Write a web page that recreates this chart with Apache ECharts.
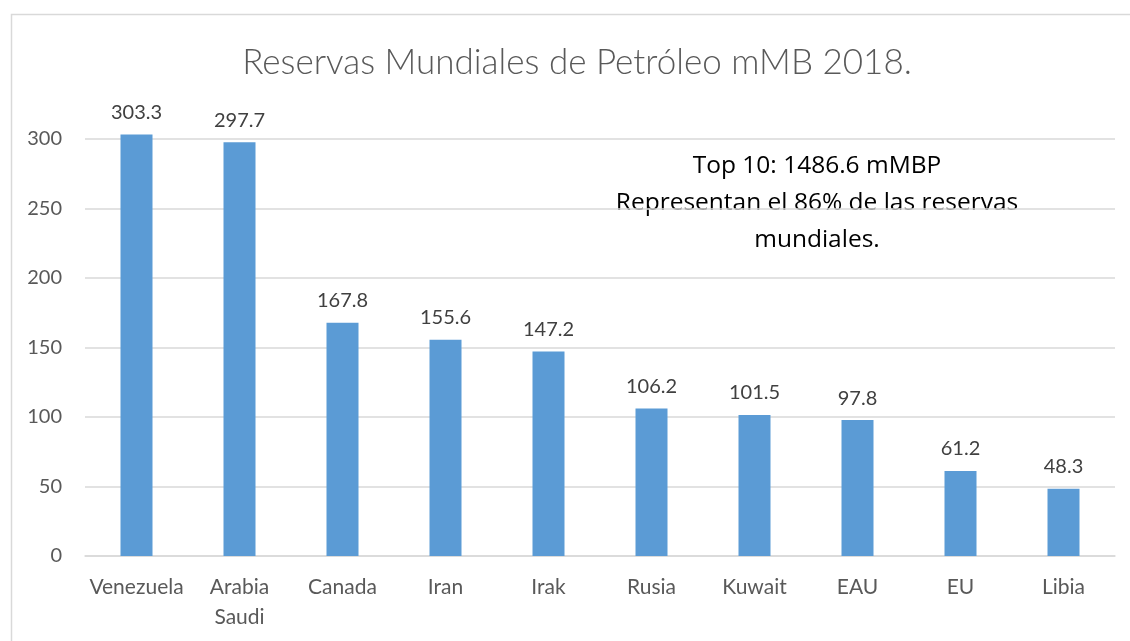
<!DOCTYPE html>
<html><head><meta charset="utf-8">
<script src="https://cdn.jsdelivr.net/npm/echarts@6/dist/echarts.min.js"></script>
<style>html,body{margin:0;padding:0;background:#fff}#c{width:1130px;height:641px}</style>
</head><body><div id="c"></div>
<script>
const categories = ['Venezuela', 'Arabia\nSaudi', 'Canada', 'Iran', 'Irak', 'Rusia', 'Kuwait', 'EAU', 'EU', 'Libia'];
const values = [303.3, 297.7, 167.8, 155.6, 147.2, 106.2, 101.5, 97.8, 61.2, 48.3];
const titleText = 'Reservas Mundiales de Petróleo mMB 2018.';
const noteLines = ['Top 10: 1486.6 mMBP', 'Representan el 86% de las reservas', 'mundiales.'];
const yTicks = [0, 50, 100, 150, 200, 250, 300];

const chart = echarts.init(document.getElementById('c'));
const font = 'Lato, "Open Sans", sans-serif';
chart.setOption({
  animation: false,
  title: {
    text: titleText, left: 572, textAlign: 'center', top: 40,
    textStyle: { fontFamily: font, fontWeight: 300, fontSize: 35, color: '#595959' }
  },
  graphic: [
    { type: 'rect', left: 9, top: 12, shape: { width: 1200, height: 700 }, style: { fill: 'none', stroke: '#d9d9d9', lineWidth: 1.5 }, silent: true },
    { type: 'text', x: 817, y: 148, style: { text: noteLines.join('\n'), fontFamily: '"Open Sans", sans-serif', fontSize: 24.5, lineHeight: 37, fill: '#000', align: 'center' } }
  ],
  grid: { left: 85, right: 15, top: 139, bottom: 85, containLabel: false },
  xAxis: {
    type: 'category', data: categories,
    axisLine: { lineStyle: { color: '#d9d9d9', width: 1.5 } },
    axisTick: { show: false },
    axisLabel: { interval: 0, color: '#595959', fontFamily: font, fontSize: 21, lineHeight: 30, margin: 16 }
  },
  yAxis: {
    type: 'value', min: yTicks[0], max: yTicks[yTicks.length - 1], interval: 50,
    axisLine: { show: false }, axisTick: { show: false },
    splitLine: { lineStyle: { color: '#d9d9d9', width: 1.5 } },
    axisLabel: { color: '#595959', fontFamily: font, fontSize: 20, margin: 23 }
  },
  series: [{
    type: 'bar', data: values, barWidth: 32, clip: false,
    itemStyle: { color: '#5b9bd5' },
    label: { show: true, position: 'top', distance: 12, color: '#404040', fontFamily: font, fontSize: 20 }
  }]
});
</script></body></html>
